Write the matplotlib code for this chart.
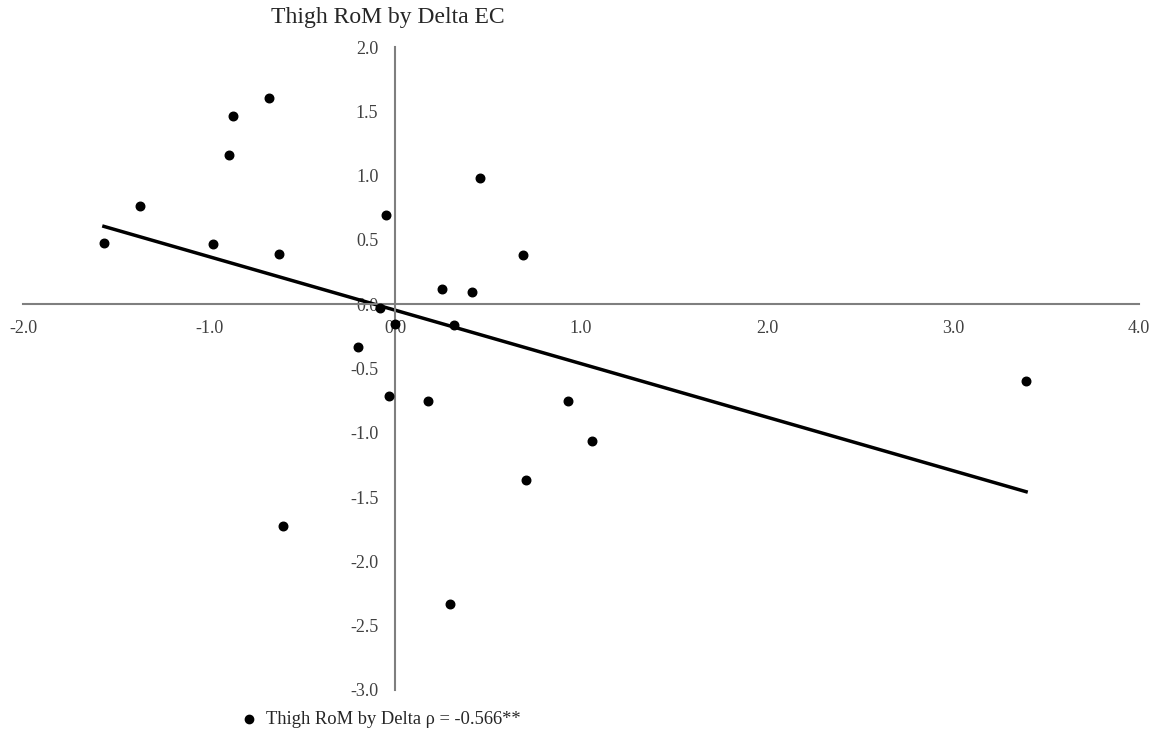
"""
   Thigh RoM by Delta EC scatter with a least squares trend line.
"""
import numpy as np
import matplotlib
matplotlib.use("Agg")
import matplotlib.pyplot as plt

plt.rcParams['font.family'] = ['Liberation Serif', 'DejaVu Serif']

# Delta EC (x) and Thigh RoM (y)
deltaEC = [-1.565, -1.371, -0.978, -0.871, -0.892, -0.677, -0.624, -0.048,
           -0.081, 0.000, 0.250, 0.412, 0.317, -0.200, 0.457, 0.688,
           -0.032, 0.177, 0.930, 1.059, 0.704, -0.602, 0.296, 3.393]
thighRoM = [0.474, 0.762, 0.467, 1.462, 1.159, 1.602, 0.389, 0.692,
            -0.030, -0.150, 0.117, 0.099, -0.163, -0.332, 0.980, 0.381,
            -0.715, -0.754, -0.754, -1.065, -1.369, -1.726, -2.333, -0.599]

xTicks = [-2.0, -1.0, 0.0, 1.0, 2.0, 3.0, 4.0]
yTicks = [2.0, 1.5, 1.0, 0.5, 0.0, -0.5, -1.0, -1.5, -2.0, -2.5, -3.0]
legendText = "Thigh RoM by Delta \u03c1 = -0.566**"


def main():
    fig = plt.figure(figsize=(11.56, 7.36), dpi=100)
    ax = fig.add_axes([0.0199, 0.0625, 0.9654, 0.8735])

    x = np.array(deltaEC)
    y = np.array(thighRoM)

    ax.scatter(x, y, s=38, color="black", zorder=3)

    # trend line over the range of the data
    slope, icpt = np.polyfit(x, y, 1)
    xl = np.array([x.min(), x.max()])
    ax.plot(xl, slope*xl + icpt, color="black", lw=2.5, zorder=2)

    ax.set_xlim(-2.0, 4.0)
    ax.set_ylim(-3.0, 2.0)

    # axes crossing at the origin
    for s in ["top", "right"]:
        ax.spines[s].set_visible(False)
    ax.spines["left"].set_position(("data", 0))
    ax.spines["bottom"].set_position(("data", 0))
    for s in ["left", "bottom"]:
        ax.spines[s].set_color("#7f7f7f")
        ax.spines[s].set_linewidth(1.5)

    ax.set_xticks(xTicks)
    ax.set_xticklabels(["%.1f" % t for t in xTicks])
    ax.set_yticks(yTicks)
    ax.set_yticklabels(["%.1f" % t for t in yTicks])
    ax.tick_params(axis="both", length=0, labelsize=13, colors="#404040")
    ax.tick_params(axis="x", pad=11)
    ax.tick_params(axis="y", pad=12)

    fig.text(388/1156, 1 - 18/736, "Thigh RoM by Delta EC", fontsize=17,
             ha="center", va="center", color="#262626")

    # legend at the bottom
    fig.lines.append(plt.Line2D([249/1156], [1 - 719/736], marker="o",
                                markersize=6, color="black",
                                transform=fig.transFigure))
    fig.text(266/1156, 1 - 719/736, legendText, fontsize=13.3,
             ha="left", va="center", color="#262626")

    fig.savefig("out.png", dpi=100)


main()
